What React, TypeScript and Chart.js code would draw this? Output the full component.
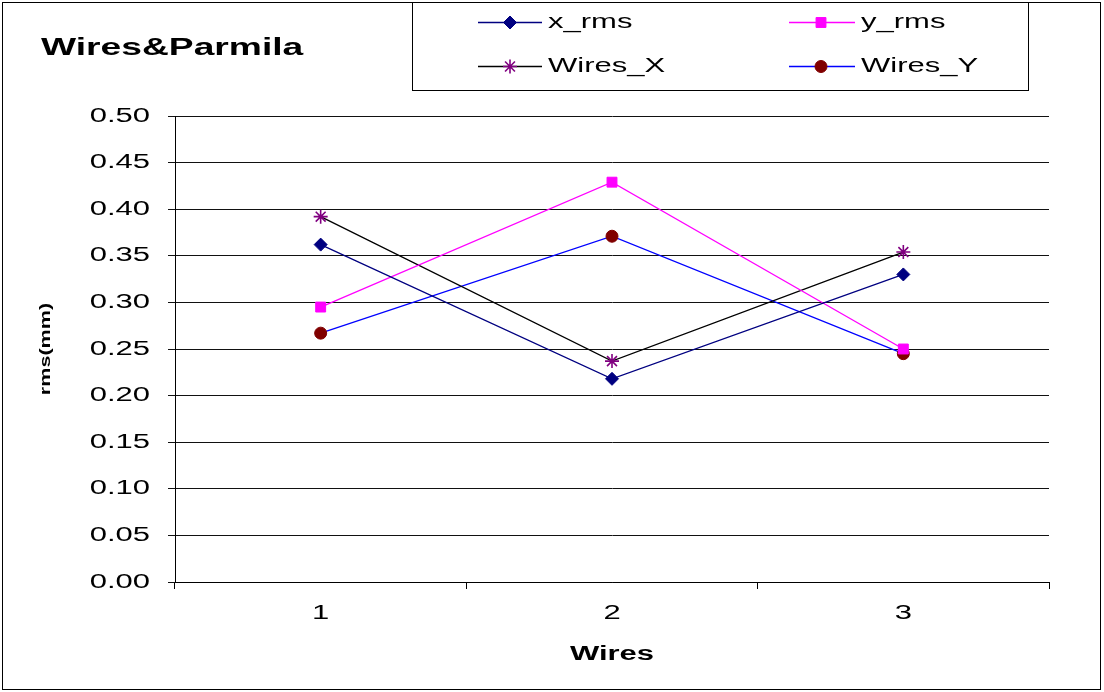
import React, { useEffect, useRef } from 'react';
import { Chart, registerables } from 'chart.js';
import { drawPoint } from 'chart.js/helpers';

Chart.register(...registerables);

// ---- data ----
const categories = ['1', '2', '3'];
const seriesNames = ['x_rms', 'y_rms', 'Wires_X', 'Wires_Y'];
const xRms = [0.362, 0.218, 0.33];
const yRms = [0.295, 0.429, 0.25];
const wiresX = [0.392, 0.237, 0.354];
const wiresY = [0.267, 0.371, 0.245];
const yMin = 0;
const yMax = 0.5;
const yStep = 0.05;
const chartTitle = 'Wires&Parmila';
const xTitle = 'Wires';
const yTitle = 'rms(mm)';

const FONT = "'Liberation Sans', Arial, Helvetica, sans-serif";
const SX = 1.55; // horizontal text stretch of the reference
const ROT_ALONG = 1.2; // rotated text: stretch along reading direction
const ROT_ACROSS = 0.85; // rotated text: squeeze across

function installStretch(ctx: any) {
  if (ctx.__origFill) return;
  const orig = CanvasRenderingContext2D.prototype.fillText;
  ctx.__origFill = orig;
  ctx.fillText = function (text: string, x: number, y: number, maxWidth?: number) {
    const m = ctx.getTransform();
    const rotated = Math.abs(m.b) > 1e-6 || Math.abs(m.c) > 1e-6;
    const sx = rotated ? ROT_ALONG : SX;
    const sy = rotated ? ROT_ACROSS : 1;
    ctx.save();
    ctx.translate(x, y);
    ctx.scale(sx, sy);
    if (maxWidth === undefined) orig.call(ctx, text, 0, 0);
    else orig.call(ctx, text, 0, 0, maxWidth / sx);
    ctx.restore();
  };
}

function uninstallStretch(ctx: any) {
  if (!ctx.__origFill) return;
  delete ctx.fillText;
  delete ctx.__origFill;
}

const legendSlots = [
  { lx0: 478, lx1: 542, mx: 510, tx: 548, y: 22 },
  { lx0: 789, lx1: 855, mx: 821, tx: 861, y: 22 },
  { lx0: 478, lx1: 542, mx: 510, tx: 548, y: 66 },
  { lx0: 789, lx1: 855, mx: 821, tx: 861, y: 66 },
];

const decorPlugin = {
  id: 'decor',
  beforeDraw(chart: any) {
    installStretch(chart.ctx);
  },
  afterDraw(chart: any) {
    const ctx = chart.ctx;
    ctx.save();
    // title
    ctx.fillStyle = '#000';
    ctx.font = `bold 24px ${FONT}`;
    ctx.textAlign = 'left';
    ctx.textBaseline = 'alphabetic';
    ctx.fillText(chartTitle, 41, 55);

    // legend box
    ctx.strokeStyle = '#000';
    ctx.lineWidth = 1;
    ctx.strokeRect(412.5, 2.5, 616, 88);

    chart.data.datasets.forEach((ds: any, i: number) => {
      const s = legendSlots[i];
      if (!s) return;
      ctx.save();
      ctx.strokeStyle = ds.borderColor;
      ctx.lineWidth = ds.borderWidth;
      ctx.beginPath();
      ctx.moveTo(s.lx0, s.y + 0.5);
      ctx.lineTo(s.lx1, s.y + 0.5);
      ctx.stroke();
      ctx.fillStyle = ds.pointBackgroundColor;
      ctx.strokeStyle = ds.pointBorderColor;
      ctx.lineWidth = ds.pointBorderWidth;
      drawPoint(ctx, {
        pointStyle: ds.pointStyle,
        radius: ds.pointRadius,
        rotation: 0,
        borderWidth: ds.pointBorderWidth,
      } as any, s.mx, s.y + 0.5);
      ctx.restore();
      ctx.fillStyle = '#000';
      ctx.font = `20px ${FONT}`;
      ctx.textAlign = 'left';
      ctx.textBaseline = 'middle';
      ctx.fillText(ds.label, s.tx, s.y);
    });

    // outer border
    ctx.strokeStyle = '#000';
    ctx.lineWidth = 1;
    ctx.strokeRect(2.5, 2.5, 1098, 687);
    ctx.restore();
    uninstallStretch(ctx);
  },
};

export default function App() {
  const ref = useRef<HTMLCanvasElement>(null);

  useEffect(() => {
    document.body.style.margin = '0';
    document.body.style.overflow = 'hidden';
    document.body.style.background = '#fff';
    const canvas = ref.current!;
    const chart = new Chart(canvas, {
      type: 'line',
      data: {
        labels: categories,
        datasets: [
          {
            label: seriesNames[0],
            data: xRms,
            borderColor: '#000080',
            backgroundColor: '#000080',
            borderWidth: 1.3,
            pointStyle: 'rectRot',
            pointRadius: 6.5,
            pointBackgroundColor: '#000080',
            pointBorderColor: '#000080',
            pointBorderWidth: 1,
          },
          {
            label: seriesNames[1],
            data: yRms,
            borderColor: '#FF00FF',
            backgroundColor: '#FF00FF',
            borderWidth: 1.3,
            pointStyle: 'rect',
            pointRadius: 7,
            pointBackgroundColor: '#FF00FF',
            pointBorderColor: '#FF00FF',
            pointBorderWidth: 1,
          },
          {
            label: seriesNames[2],
            data: wiresX,
            borderColor: '#000000',
            backgroundColor: '#800080',
            borderWidth: 1.3,
            pointStyle: 'star',
            pointRadius: 7,
            pointBackgroundColor: '#800080',
            pointBorderColor: '#800080',
            pointBorderWidth: 1.6,
          },
          {
            label: seriesNames[3],
            data: wiresY,
            borderColor: '#0000FF',
            backgroundColor: '#800000',
            borderWidth: 1.3,
            pointStyle: 'circle',
            pointRadius: 6,
            pointBackgroundColor: '#800000',
            pointBorderColor: '#800000',
            pointBorderWidth: 1,
          },
        ],
      },
      options: {
        responsive: false,
        animation: false,
        events: [],
        layout: { padding: { left: 0, top: 116, right: 55, bottom: 0 } },
        plugins: {
          legend: { display: false },
          tooltip: { enabled: false },
          title: { display: false },
        },
        scales: {
          x: {
            offset: true,
            grid: {
              offset: true,
              drawOnChartArea: false,
              drawTicks: true,
              tickLength: 7,
              color: '#000',
              lineWidth: 1,
            },
            border: { display: true, color: '#000', width: 1 },
            ticks: {
              color: '#000',
              font: { family: FONT, size: 20 },
              padding: 12,
              maxRotation: 0,
            },
            title: {
              display: true,
              text: xTitle,
              color: '#000',
              font: { family: FONT, size: 20, weight: 'bold' },
              padding: { top: 0, bottom: 26 },
            },
            afterFit: (s: any) => {
              s.height = 110;
            },
          },
          y: {
            min: yMin,
            max: yMax,
            grid: { color: '#111', lineWidth: 1, tickLength: 7, drawTicks: true },
            border: { display: true, color: '#000', width: 1 },
            ticks: {
              stepSize: yStep,
              color: '#000',
              font: { family: FONT, size: 20 },
              padding: 18,
              callback: (v: any) => Number(v).toFixed(2),
            },
            title: {
              display: true,
              text: yTitle,
              color: '#000',
              font: { family: FONT, size: 18, weight: 'bold' },
              padding: { top: 35, bottom: 0 },
            },
            afterFit: (s: any) => {
              s.width = 175;
            },
          },
        },
      } as any,
      plugins: [decorPlugin],
    });
    return () => {
      chart.destroy();
    };
  }, []);

  return (
    <canvas
      ref={ref}
      width={1104}
      height={692}
      style={{ display: 'block', width: '1104px', height: '692px' }}
    />
  );
}
